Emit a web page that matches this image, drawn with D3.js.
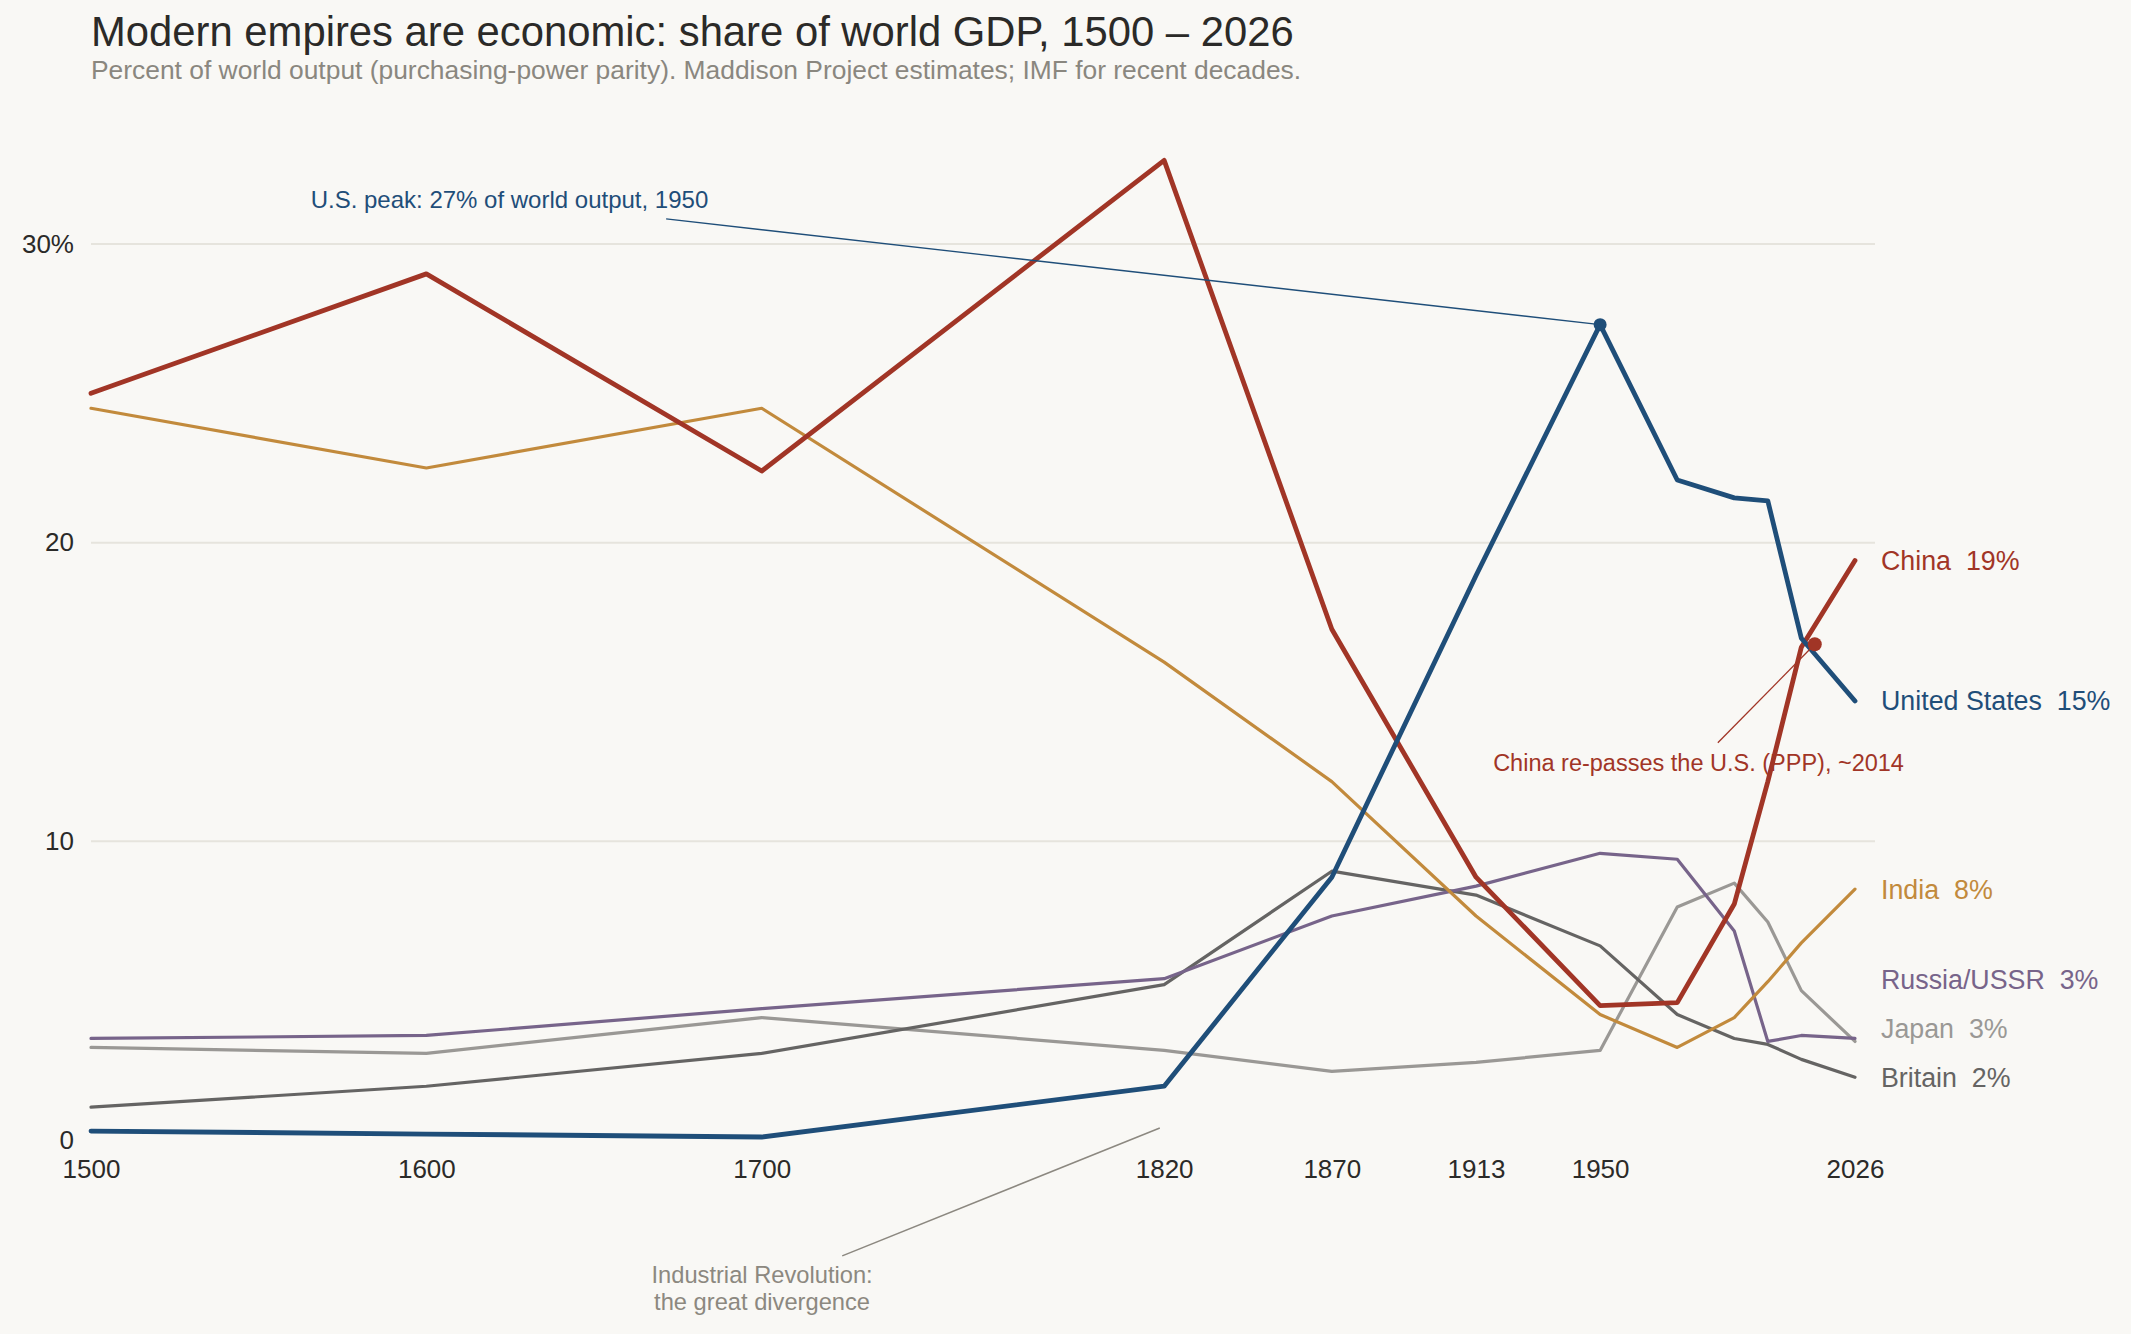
<!DOCTYPE html>
<html>
<head>
<meta charset="utf-8">
<script src="https://cdn.jsdelivr.net/npm/d3@7"></script>
<style>
	body { margin: 0; background: #f9f8f5; }
	text { font-family: "Liberation Sans", Arial, Helvetica, sans-serif; }
</style>
</head>
<body>
<div id="chart"></div>
<script>
var years   = [1500, 1600, 1700, 1820, 1870, 1913, 1950, 1973, 1990, 2000, 2010, 2026];
var china   = [25.0, 29.0, 22.4, 32.8, 17.1, 8.8, 4.5, 4.6, 7.9, 12.0, 16.5, 19.4];
var india   = [24.5, 22.5, 24.5, 16.0, 12.0, 7.5, 4.2, 3.1, 4.1, 5.3, 6.6, 8.4];
var usa     = [0.3, 0.2, 0.1, 1.8, 8.8, 18.9, 27.3, 22.1, 21.5, 21.4, 16.8, 14.7];
var russia  = [3.4, 3.5, 4.4, 5.4, 7.5, 8.5, 9.6, 9.4, 7.0, 3.3, 3.5, 3.4];
var japan   = [3.1, 2.9, 4.1, 3.0, 2.3, 2.6, 3.0, 7.8, 8.6, 7.3, 5.0, 3.3];
var britain = [1.1, 1.8, 2.9, 5.2, 9.0, 8.2, 6.5, 4.2, 3.4, 3.2, 2.7, 2.1];

var xTicks = [1500, 1600, 1700, 1820, 1870, 1913, 1950, 2026];
var yTicks = [0, 10, 20, 30];

var w = 2131, h = 1334;

var series = [
	{ name: 'Japan',         values: japan,   color: '#9a9895', width: 3.2 },
	{ name: 'Britain',       values: britain, color: '#656463', width: 3.2 },
	{ name: 'Russia/USSR',   values: russia,  color: '#77648a', width: 3.2 },
	{ name: 'India',         values: india,   color: '#c28a3c', width: 3.2 },
	{ name: 'China',         values: china,   color: '#a13526', width: 4.8 },
	{ name: 'United States', values: usa,     color: '#1f4e79', width: 4.8 }
];

var x = d3.scaleLinear().domain([1500, 2026]).range([91, 1855]);
var y = d3.scaleLinear().domain([0, 30]).range([1140, 244]);

var svg = d3.select('#chart')
	.append('svg')
		.attr('width', w)
		.attr('height', h)
		.style('background', '#f9f8f5');

// title
svg.append('text')
	.attr('x', 91).attr('y', 46)
	.attr('font-size', 41.8)
	.attr('fill', '#2b2a28')
	.text('Modern empires are economic: share of world GDP, 1500 \u2013 2026');
svg.append('text')
	.attr('x', 91).attr('y', 79)
	.attr('font-size', 26.4)
	.attr('fill', '#8a877f')
	.text('Percent of world output (purchasing-power parity). Maddison Project estimates; IMF for recent decades.');

// grid
svg.append('g')
	.selectAll('line')
	.data(yTicks.filter(function (d) { return d > 0; }))
	.enter()
	.append('line')
		.attr('x1', x(1500)).attr('x2', x(2026) + 20)
		.attr('y1', function (d) { return y(d); })
		.attr('y2', function (d) { return y(d); })
		.attr('stroke', '#e6e4dd')
		.attr('stroke-width', 2);

var yAxis = d3.axisLeft(y)
	.tickValues(yTicks)
	.tickSize(0)
	.tickPadding(17)
	.tickFormat(function (d) { return d == 30 ? d + '%' : d; });
var gy = svg.append('g')
	.attr('transform', 'translate(' + x(1500) + ',0)')
	.call(yAxis);
gy.select('.domain').remove();
gy.selectAll('text').attr('font-size', 26).attr('fill', '#2b2a28').style('font-family', '"Liberation Sans", Arial, sans-serif');

var xAxis = d3.axisBottom(x)
	.tickValues(xTicks)
	.tickSize(0)
	.tickPadding(20)
	.tickFormat(d3.format('d'));
var gx = svg.append('g')
	.attr('transform', 'translate(0,' + y(0) + ')')
	.call(xAxis);
gx.select('.domain').remove();
gx.selectAll('text').attr('font-size', 26).attr('fill', '#2b2a28').style('font-family', '"Liberation Sans", Arial, sans-serif');

// lines
var line = d3.line()
	.x(function (d, i) { return x(years[i]); })
	.y(function (d) { return y(d); });

svg.append('g')
	.selectAll('path')
	.data(series)
	.enter()
	.append('path')
		.attr('d', function (s) { return line(s.values); })
		.attr('fill', 'none')
		.attr('stroke', function (s) { return s.color; })
		.attr('stroke-width', function (s) { return s.width; })
		.attr('stroke-linejoin', 'round')
		.attr('stroke-linecap', 'round');

// end labels, dodged so they don't overlap
var ends = series.map(function (s) {
	var v = s.values[s.values.length - 1];
	return { s: s, v: v, ly: y(v) };
});
ends.sort(function (a, b) { return b.ly - a.ly || b.v - a.v; });
for (var i = 1; i < ends.length; i++) {
	if (ends[i].ly > ends[i - 1].ly - 49) ends[i].ly = ends[i - 1].ly - 49;
}
svg.append('g')
	.selectAll('text')
	.data(ends)
	.enter()
	.append('text')
		.attr('x', x(2026) + 26)
		.attr('y', function (d) { return d.ly; })
		.attr('dy', '0.35em')
		.attr('font-size', 26.8)
		.attr('fill', function (d) { return d.s.color; })
		.style('white-space', 'pre')
		.text(function (d) { return d.s.name + '  ' + Math.round(d.v) + '%'; });

// annotation: US peak
svg.append('line')
	.attr('x1', x(1671.5)).attr('y1', y(30.84))
	.attr('x2', x(1950)).attr('y2', y(27.3))
	.attr('stroke', '#1f4e79').attr('stroke-width', 1.3);
svg.append('circle')
	.attr('cx', x(1950)).attr('cy', y(27.3)).attr('r', 6.5)
	.attr('fill', '#1f4e79');
svg.append('text')
	.attr('x', x(1565.5)).attr('y', y(31.2))
	.attr('font-size', 24)
	.attr('fill', '#1f4e79')
	.text('U.S. peak: 27% of world output, 1950');

// annotation: China re-passes US
svg.append('line')
	.attr('x1', x(1985.1)).attr('y1', y(13.3))
	.attr('x2', x(2014)).attr('y2', y(16.6))
	.attr('stroke', '#a13526').attr('stroke-width', 1.3);
svg.append('circle')
	.attr('cx', x(2014)).attr('cy', y(16.6)).attr('r', 7)
	.attr('fill', '#a13526');
svg.append('text')
	.attr('x', x(1918.1)).attr('y', y(12.36))
	.attr('font-size', 23.5)
	.attr('fill', '#a13526')
	.text('China re-passes the U.S. (PPP), ~2014');

// annotation: industrial revolution
svg.append('line')
	.attr('x1', x(1724)).attr('y1', y(-3.88))
	.attr('x2', x(1818.7)).attr('y2', y(0.4))
	.attr('stroke', '#8c8880').attr('stroke-width', 1.5);
var ir = svg.append('text')
	.attr('text-anchor', 'middle')
	.attr('font-size', 23.7)
	.attr('fill', '#8c8880');
ir.append('tspan').attr('x', x(1700.1)).attr('y', y(-4.79)).text('Industrial Revolution:');
ir.append('tspan').attr('x', x(1700.1)).attr('y', y(-5.68)).text('the great divergence');
</script>
</body>
</html>
